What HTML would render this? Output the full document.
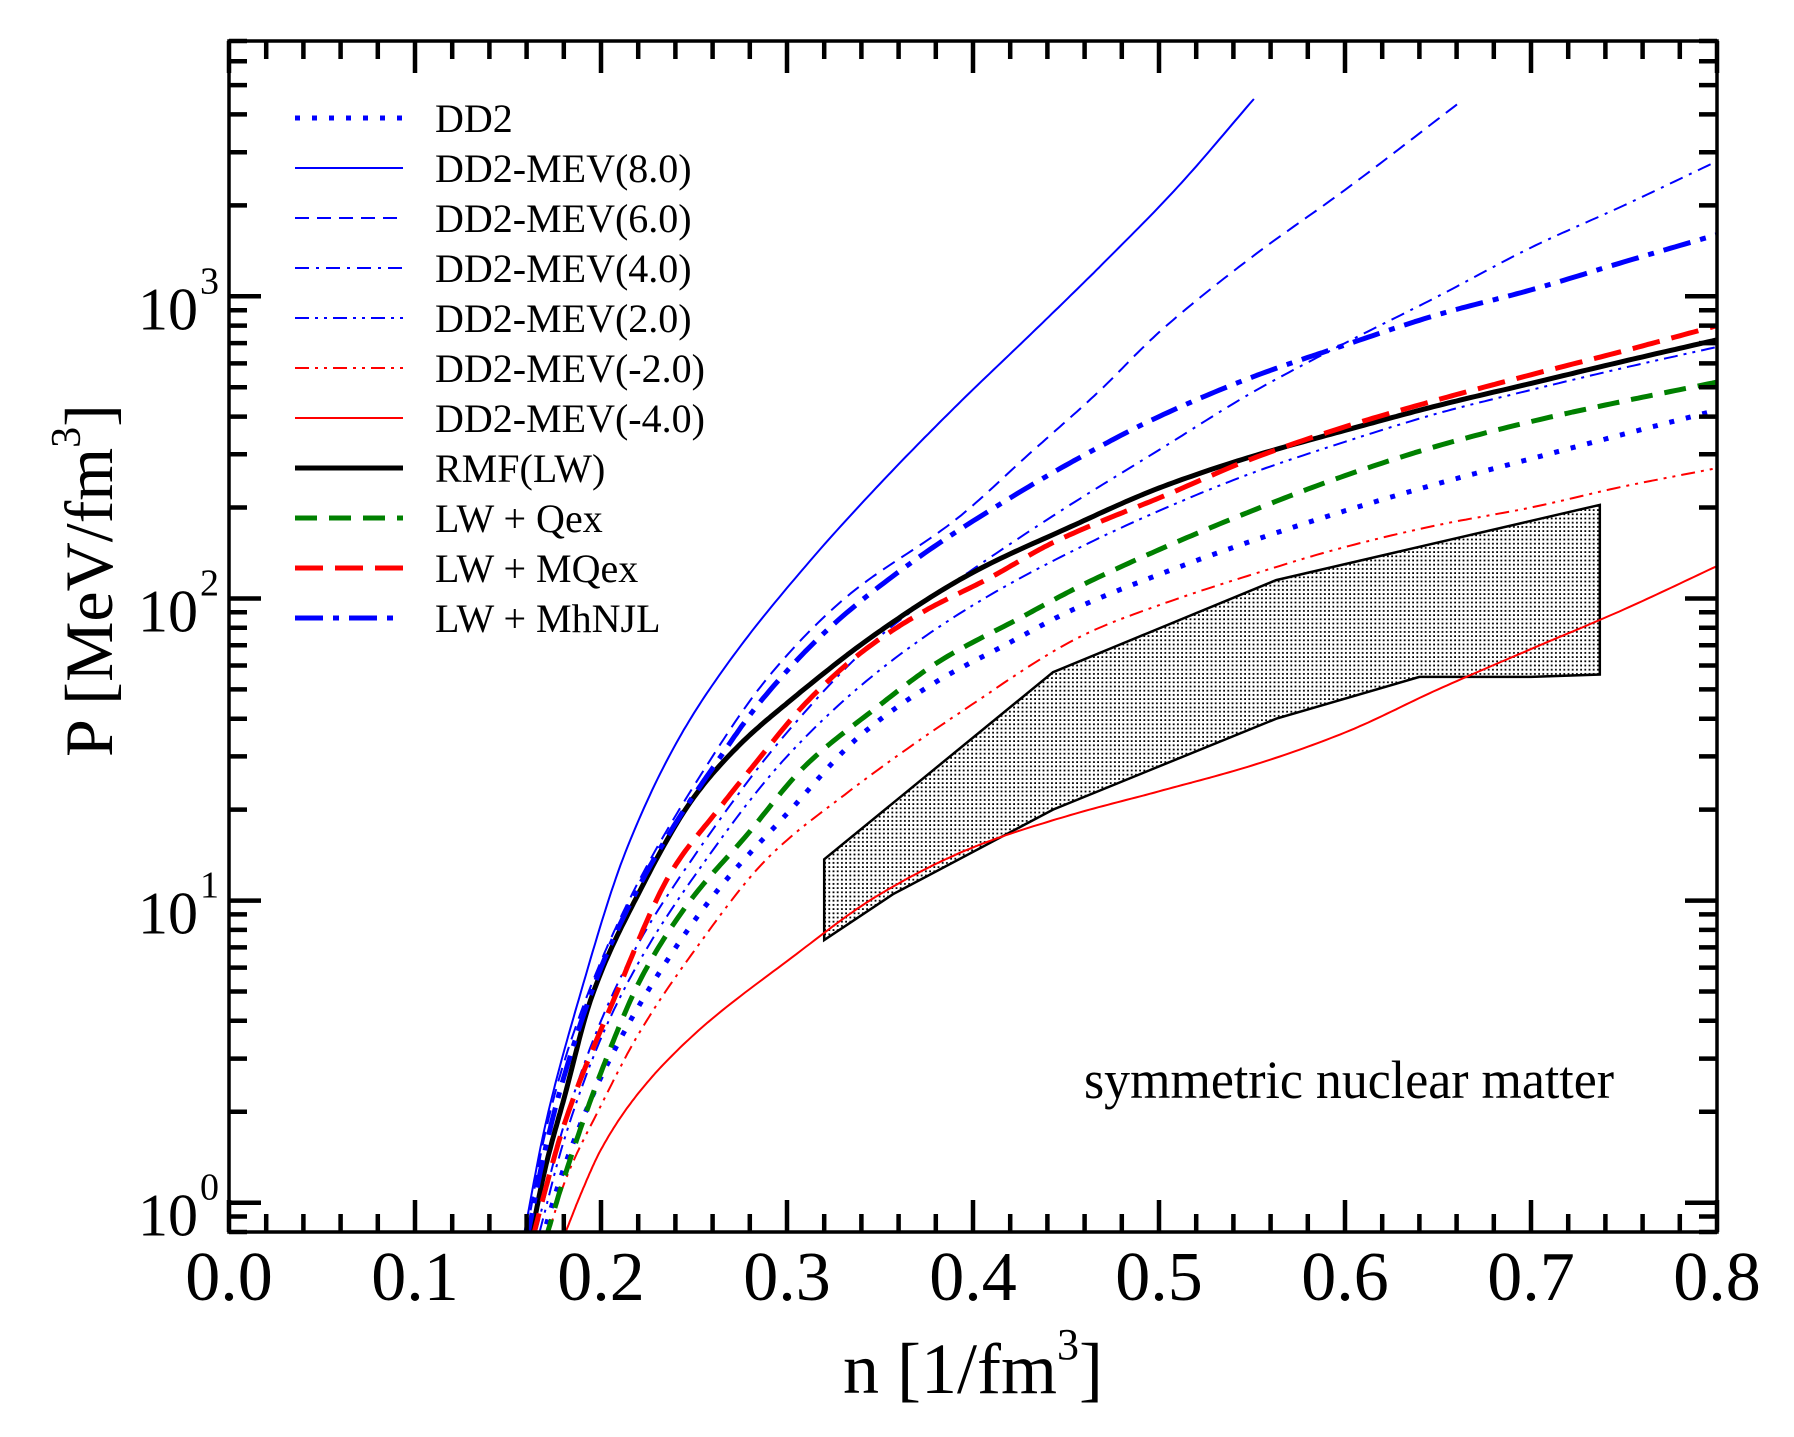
<!DOCTYPE html>
<html><head><meta charset="utf-8"><style>
html,body{margin:0;padding:0;background:#fff;}
svg{display:block;}
text{font-family:"Liberation Serif",serif;fill:#000;}
</style></head><body>
<svg id="chart" width="1794" height="1437" viewBox="0 0 1794 1437" xmlns="http://www.w3.org/2000/svg">
<defs>
<clipPath id="plotclip"><rect x="229" y="41" width="1488" height="1191"/></clipPath>
<pattern id="dots" width="4.2" height="4.2" patternUnits="userSpaceOnUse">
<rect width="4.2" height="4.2" fill="#fff"/><rect x="1" y="1" width="1.8" height="1.8" fill="#000"/>
</pattern>
</defs>
<g id="band"></g>
<g id="curves" clip-path="url(#plotclip)"></g>
<g id="axes"></g>
<g id="legend"></g>
<text x="1084" y="1098" font-size="54" textLength="530" lengthAdjust="spacingAndGlyphs">symmetric nuclear matter</text>
<text x="843" y="1393" font-size="72">n [1/fm<tspan dy="-34" font-size="44">3</tspan><tspan dy="34">]</tspan></text>
<text transform="translate(112,757) rotate(-90)" x="0" y="0" font-size="68">P [MeV/fm<tspan dy="-32" font-size="42">3</tspan><tspan dy="32">]</tspan></text>
</svg>
<script>
const NS='http://www.w3.org/2000/svg';
// axis ranges
const xMin=0, xMax=0.8, yMin=0.8, yMax=7000;
const xTickLabels=['0.0','0.1','0.2','0.3','0.4','0.5','0.6','0.7','0.8'];
const xTickValues=[0,0.1,0.2,0.3,0.4,0.5,0.6,0.7,0.8];
const yTickExps=[0,1,2,3];
// series data
const nRMF=[0.162,0.17,0.18,0.195,0.22,0.25,0.275,0.3,0.35,0.4,0.45,0.5,0.55,0.6,0.65,0.7,0.75,0.8];
const pRMF=[0.75,1.3,2.2,4.8,10.5,22,33,45,78,122,170,232,295,360,435,515,610,718];
const nMQex=[0.163,0.17,0.18,0.2075,0.238,0.263,0.282,0.31,0.341,0.372,0.409,0.442,0.467,0.5,0.55,0.6,0.65,0.7,0.75,0.8];
const pMQex=[0.75,1.1,1.8,4.8,12.5,20,28,45,67,89.5,117,152,178,215,290,370,455,550,660,800];
const nQex=[0.17,0.18,0.2,0.222,0.248,0.277,0.31,0.347,0.382,0.425,0.459,0.5,0.55,0.6,0.65,0.7,0.75,0.8];
const pQex=[0.75,1.2,2.7,5.6,10,16.1,28,43,62,86,111,145,195,255,320,385,450,520];
const nDD2=[0.168,0.18,0.2,0.225,0.261,0.302,0.339,0.378,0.417,0.454,0.5,0.55,0.6,0.65,0.7,0.75,0.8];
const pDD2=[0.75,1.3,2.6,5,10.5,20,35,52,70,92,120,155,195,240,290,350,420];
const nMhNJL=[0.16,0.17,0.18,0.2,0.22,0.24,0.261,0.285,0.323,0.368,0.411,0.454,0.5,0.55,0.6,0.65,0.7,0.75,0.8];
const pMhNJL=[0.75,1.5,2.6,6,11,18,28,45,80,133,199,285,400,540,690,870,1050,1300,1600];
const nMEV8=[0.158,0.17,0.188,0.213,0.242,0.269,0.31,0.352,0.392,0.434,0.468,0.51,0.551];
const pMEV8=[0.75,1.8,4.7,14.4,34.5,62,128,247,440,780,1250,2300,4500];
const nMEV6=[0.16,0.17,0.18,0.2,0.22,0.25,0.29,0.331,0.392,0.43,0.467,0.5,0.55,0.6,0.662];
const pMEV6=[0.8,1.7,2.9,6.3,11.5,24,55,100,185,300,480,760,1350,2250,4400];
const nMEV4=[0.165,0.18,0.2,0.22,0.25,0.3,0.35,0.4,0.45,0.5,0.55,0.6,0.65,0.7,0.75,0.8];
const pMEV4=[0.8,1.8,4,7.2,14,36,75,125,200,310,480,700,1000,1450,2000,2800];
const nMEV2=[0.167,0.18,0.2,0.22,0.25,0.3,0.35,0.4,0.45,0.5,0.55,0.6,0.65,0.7,0.75,0.8];
const pMEV2=[0.8,1.6,3.5,6.2,12,30,58,95,140,195,260,330,410,490,580,680];
const nMEVm2=[0.172,0.18,0.2,0.22,0.25,0.29,0.331,0.392,0.462,0.5,0.55,0.6,0.65,0.7,0.75,0.8];
const pMEVm2=[0.8,1.15,2.1,3.6,6.8,13.9,22.4,41.5,77,95,120,148,175,200,235,270];
const nMEVm4=[0.181,0.19,0.2,0.22,0.25,0.3,0.35,0.4,0.45,0.5,0.55,0.6,0.65,0.7,0.75,0.8];
const pMEVm4=[0.8,1.1,1.5,2.3,3.6,6.3,10.5,15,19,23,28,36,50,68,92,128];
// flow constraint band
const bandUpperN=[0.32,0.443,0.563,0.737];
const bandUpperP=[13.7,57,115,204];
const bandLowerN=[0.32,0.357,0.443,0.563,0.64,0.70,0.737];
const bandLowerP=[7.4,10.5,20,40,55,55,56];

const L=229,R=1717,T=41,B=1232;
const xs=v=>L+(v-xMin)/(xMax-xMin)*(R-L);
const ys=v=>B-(Math.log10(v)-Math.log10(yMin))/(Math.log10(yMax)-Math.log10(yMin))*(B-T);

// monotone cubic (Fritsch-Carlson) in (n, log P), sampled densely
function monoPath(ns,ps){
  const x=ns, y=ps.map(p=>Math.log10(p)), N=x.length;
  const d=[],m=new Array(N);
  for(let i=0;i<N-1;i++) d.push((y[i+1]-y[i])/(x[i+1]-x[i]));
  m[0]=d[0]; m[N-1]=d[N-2];
  for(let i=1;i<N-1;i++){
    if(d[i-1]*d[i]<=0) m[i]=0;
    else { const w1=2*(x[i+1]-x[i])+(x[i]-x[i-1]), w2=(x[i+1]-x[i])+2*(x[i]-x[i-1]);
      m[i]=(w1+w2)/(w1/d[i-1]+w2/d[i]); }
  }
  const pts=[];
  for(let i=0;i<N-1;i++){
    const h=x[i+1]-x[i], steps=20;
    for(let k=(i===0?0:1);k<=steps;k++){
      const t=k/steps, t2=t*t, t3=t2*t;
      const v=(2*t3-3*t2+1)*y[i]+(t3-2*t2+t)*h*m[i]+(-2*t3+3*t2)*y[i+1]+(t3-t2)*h*m[i+1];
      pts.push(xs(x[i]+t*h).toFixed(1)+','+ys(Math.pow(10,v)).toFixed(1));
    }
  }
  return 'M'+pts.join(' L');
}
const B_='#0000ff',R_='#ff0000',G_='#008000';
const series=[
 {name:'DD2',n:nDD2,p:pDD2,c:B_,w:5,da:'5 12'},
 {name:'DD2-MEV(8.0)',n:nMEV8,p:pMEV8,c:B_,w:2,da:''},
 {name:'DD2-MEV(6.0)',n:nMEV6,p:pMEV6,c:B_,w:2,da:'14 8'},
 {name:'DD2-MEV(4.0)',n:nMEV4,p:pMEV4,c:B_,w:2,da:'14 7 3 7'},
 {name:'DD2-MEV(2.0)',n:nMEV2,p:pMEV2,c:B_,w:2,da:'14 6 3 6 3 6'},
 {name:'DD2-MEV(-2.0)',n:nMEVm2,p:pMEVm2,c:R_,w:2,da:'14 6 3 6 3 6'},
 {name:'DD2-MEV(-4.0)',n:nMEVm4,p:pMEVm4,c:R_,w:2,da:''},
 {name:'RMF(LW)',n:nRMF,p:pRMF,c:'#000',w:5,da:''},
 {name:'LW + Qex',n:nQex,p:pQex,c:G_,w:5,da:'22 12'},
 {name:'LW + MQex',n:nMQex,p:pMQex,c:R_,w:5,da:'28 12'},
 {name:'LW + MhNJL',n:nMhNJL,p:pMhNJL,c:B_,w:5,da:'28 10 6 10'}
];
function mk(tag,attrs,parent){const e=document.createElementNS(NS,tag);for(const k in attrs)e.setAttribute(k,attrs[k]);parent.appendChild(e);return e;}
const slug=s=>s.toLowerCase().replace(/[^a-z0-9]+/g,'-').replace(/^-|-$/g,'');

// band
const band=document.getElementById('band');
let bd='M'+bandUpperN.map((n,i)=>xs(n).toFixed(1)+','+ys(bandUpperP[i]).toFixed(1)).join(' L');
for(let i=bandLowerN.length-1;i>=0;i--) bd+=' L'+xs(bandLowerN[i]).toFixed(1)+','+ys(bandLowerP[i]).toFixed(1);
bd+=' Z';
const bp=mk('path',{d:bd,fill:'url(#dots)',stroke:'#000','stroke-width':2.5},band);



// curves
const cg=document.getElementById('curves');
series.forEach(s=>{
  const el=mk('path',{d:monoPath(s.n,s.p),fill:'none',stroke:s.c,'stroke-width':s.w,'stroke-dasharray':s.da||'none','stroke-linejoin':'round'},cg);
  
  
});

// axes
const ax=document.getElementById('axes');
const fr=mk('rect',{x:L,y:T,width:R-L,height:B-T,fill:'none',stroke:'#000','stroke-width':3.5},ax);


let td='';
for(let k=0;k<=40;k++){
  const v=k*0.02,x=xs(v),len=(k%5===0)?32:18;
  td+=`M${x.toFixed(1)},${B}v${-len}M${x.toFixed(1)},${T}v${len}`;
}
for(let e=-1;e<=3;e++){
  for(let m=1;m<=9;m++){
    const v=m*Math.pow(10,e);
    if(v<yMin-1e-9||v>yMax+1e-9)continue;
    const y=ys(v),len=(m===1)?32:18;
    td+=`M${L},${y.toFixed(1)}h${len}M${R},${y.toFixed(1)}h${-len}`;
  }
}
const tk=mk('path',{d:td,stroke:'#000','stroke-width':4.5,fill:'none'},ax);


xTickValues.forEach((v,i)=>{
  const t=mk('text',{x:xs(v),y:1300,'font-size':70,'text-anchor':'middle'},ax);
  t.textContent=xTickLabels[i];
  
  
});
yTickExps.forEach(e=>{
  const y=ys(Math.pow(10,e));
  const t=mk('text',{x:198,y:y+33,'font-size':60,'text-anchor':'end'},ax);
  t.textContent='10';
  
  
  const s=mk('text',{x:200,y:y-3,'font-size':38},ax);
  s.textContent=String(e);
  
  
});

// legend
const lg=document.getElementById('legend');
series.forEach((s,i)=>{
  const y=118+i*50.0;
  const g=mk('g',{},lg);
  
  
  mk('line',{x1:295,x2:403,y1:y,y2:y,stroke:s.c,'stroke-width':s.w,'stroke-dasharray':s.da||'none'},g);
  const t=mk('text',{x:435,y:y+14,'font-size':40},g);
  t.textContent=s.name;
});
</script>
</body></html>
